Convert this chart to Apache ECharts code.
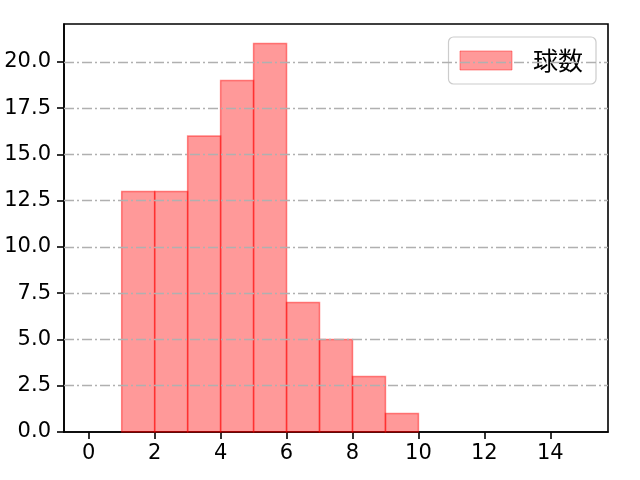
<!DOCTYPE html>
<html>
<head>
<meta charset="utf-8">
<script src="https://cdn.jsdelivr.net/npm/echarts@6/dist/echarts.min.js"></script>
<style>html,body{margin:0;padding:0;background:#fff}#c{width:640px;height:480px}</style>
</head>
<body>
<div id="c"></div>
<script>
const binStarts = [0,1,2,3,4,5,6,7,8,9,10,11,12,13,14];
const counts = [0,13,13,16,19,21,7,5,3,1,0,0,0,0,0];
const xTicks = [0,2,4,6,8,10,12,14];
const yTicks = [0,2.5,5,7.5,10,12.5,15,17.5,20];
const seriesName = '球数';

const data = binStarts.map((s,i)=>[s, s+1, counts[i]]);
const font = 'DejaVu Sans';
const chart = echarts.init(document.getElementById('c'), null, {renderer:'canvas'});
chart.setOption({
  animation:false,
  backgroundColor:'#fff',
  grid:{left:64,right:32,top:24,bottom:48,show:true,borderColor:'#000',borderWidth:1.6,backgroundColor:'transparent'},
  legend:{
    show:true,right:44,top:37,itemWidth:52,itemHeight:19,itemGap:10,
    padding:[11,13,11,11],
    borderColor:'#cccccc',borderWidth:1.2,borderRadius:5,backgroundColor:'rgba(255,255,255,0.8)',
    textStyle:{fontFamily:'Noto Sans CJK JP',fontSize:25,color:'#000',padding:[0,0,0,16]},
    data:[{name:seriesName,icon:'rect',itemStyle:{color:'rgba(255,0,0,0.4)',borderColor:'rgba(255,0,0,0.4)',borderWidth:1}}]
  },
  xAxis:{
    type:'value',min:-0.75,max:15.75,
    axisLine:{show:true,onZero:false,lineStyle:{color:'#000',width:1.6}},
    axisTick:{show:true,length:7,customValues:xTicks,lineStyle:{color:'#000',width:1.6}},
    axisLabel:{customValues:xTicks,fontFamily:font,fontSize:21,color:'#000',margin:11},
    splitLine:{show:false}
  },
  yAxis:{
    type:'value',min:0,max:22.05,
    axisLine:{show:true,onZero:false,lineStyle:{color:'#000',width:1.6}},
    axisTick:{show:true,length:7,customValues:yTicks,lineStyle:{color:'#000',width:1.6}},
    axisLabel:{customValues:yTicks,fontFamily:font,fontSize:21,color:'#000',margin:13,formatter:v=>v.toFixed(1)},
    splitLine:{show:false}
  },
  series:[
    {
      type:'custom',name:seriesName,z:2,
      renderItem:function(params,api){
        const h = api.value(2);
        if(!h) return null;
        const p0 = api.coord([api.value(0),0]);
        const p1 = api.coord([api.value(1),h]);
        return {type:'rect',shape:{x:p0[0],y:p1[1],width:p1[0]-p0[0],height:p0[1]-p1[1]},
          style:{fill:'rgba(255,0,0,0.4)',stroke:'rgba(255,0,0,0.45)',lineWidth:1.5}};
      },
      encode:{x:[0,1],y:2},
      data:data
    },
    {
      type:'line',name:'grid',silent:true,data:[],
      markLine:{silent:true,symbol:'none',label:{show:false},
        lineStyle:{color:'#b0b0b0',width:1.4,type:[10,3,2,3]},
        data:yTicks.filter(v=>v>0).map(v=>({yAxis:v}))},
      z:3
    }
  ]
});
</script>
</body>
</html>
